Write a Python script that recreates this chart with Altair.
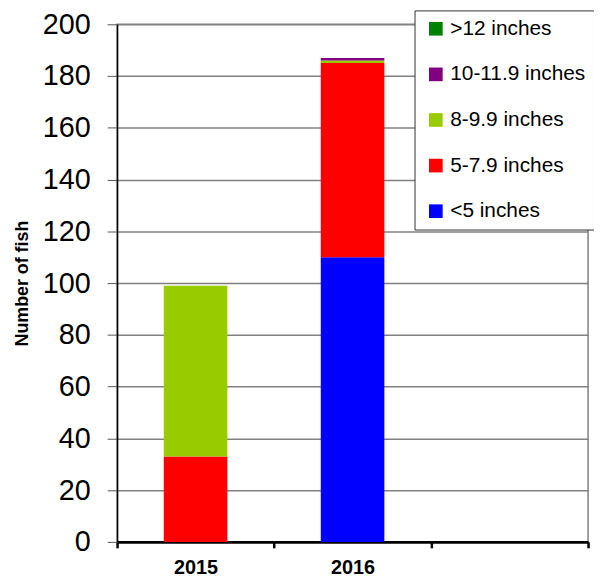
import altair as alt
import pandas as pd

years = ["2015", "2016"]
x_domain = ["2015", "2016", " "]
sizes = ["<5 inches", "5-7.9 inches", "8-9.9 inches", "10-11.9 inches", ">12 inches"]
colors = ["#0000FF", "#FF0000", "#99CC00", "#800080", "#008000"]
counts_2015 = [0, 33, 66, 0, 0]
counts_2016 = [110, 75, 1, 1, 0]

rows = []
for yr, vals in zip(years, [counts_2015, counts_2016]):
    for i, (s, v) in enumerate(zip(sizes, vals)):
        if v > 0:
            rows.append({"year": yr, "size": s, "count": v, "idx": i})
df = pd.DataFrame(rows)

legend_order = sizes[::-1]
legend_colors = colors[::-1]

chart = alt.Chart(df).mark_bar(width=alt.RelativeBandSize(0.405)).encode(
    x=alt.X("year:N", scale=alt.Scale(domain=x_domain, paddingInner=0, paddingOuter=0),
            axis=alt.Axis(title=None, labelAngle=0, labelFont="Liberation Sans",
                          labelFontSize=20, labelFontWeight="bold", labelColor="black",
                          domainColor="black", domainWidth=3, tickColor="black",
                          tickWidth=2.5, tickSize=6, tickBand="extent", labelPadding=10)),
    y=alt.Y("count:Q", stack="zero", scale=alt.Scale(domain=[0, 200], nice=False),
            axis=alt.Axis(title="Number of fish", values=list(range(0, 201, 20)),
                          labelFont="Liberation Sans", labelFontSize=29, labelColor="black",
                          titleFont="Liberation Sans", titleFontSize=18, titleFontWeight="bold",
                          titleColor="black", titlePadding=11, labelPadding=17,
                          domainColor="black", domainWidth=1.5, tickColor="#555555",
                          tickSize=10, gridColor="#808080", gridWidth=1.5)),
    color=alt.Color("size:N", scale=alt.Scale(domain=legend_order, range=legend_colors),
                    legend=alt.Legend(title=None, orient="none", legendX=300, legendY=-14,
                                      symbolType="square", symbolSize=190, symbolStrokeWidth=0,
                                      labelFont="Liberation Sans", labelFontSize=21,
                                      labelColor="black", rowPadding=24, padding=8,
                                      strokeColor="#333333", fillColor="white",
                                      labelLimit=300, symbolOffset=3, labelOffset=4, offset=0)),
    order=alt.Order("idx:Q", sort="ascending"),
).properties(
    width=475, height=522,
    autosize=alt.AutoSizeParams(type="none"),
    padding={"left": 110, "top": 14, "right": 6, "bottom": 34},
).configure_view(stroke="#808080", strokeWidth=1.5)

chart.save("out.html", embed_options={"renderer": "svg", "actions": False})
